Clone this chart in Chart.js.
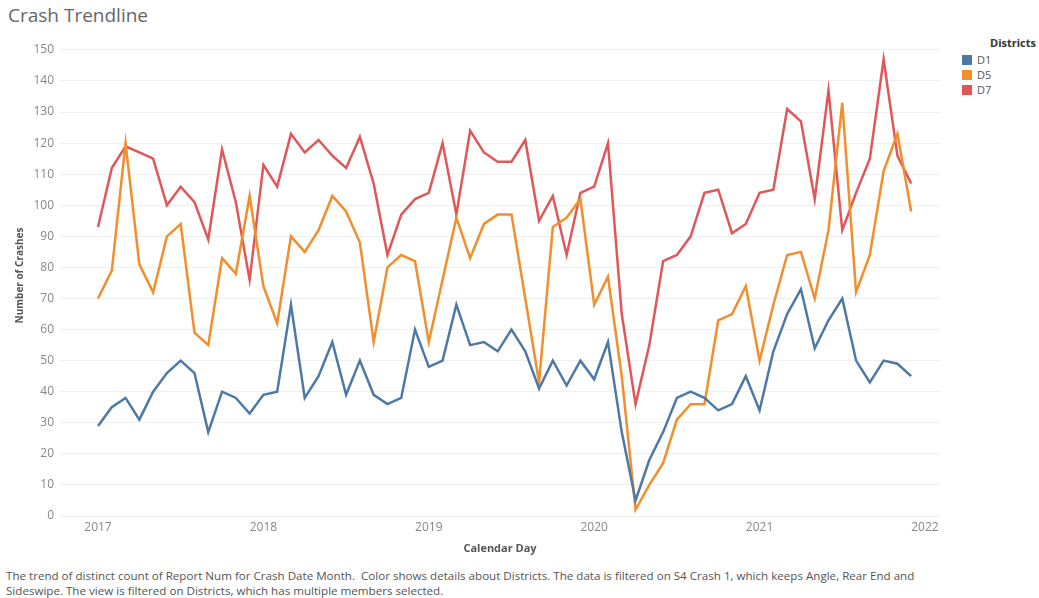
<!DOCTYPE html>
<html>
<head>
<meta charset="utf-8">
<script src="https://cdn.jsdelivr.net/npm/chart.js@4.4.1/dist/chart.umd.min.js"></script>
<style>
  html, body { margin: 0; padding: 0; background: #fff; }
  body { width: 1039px; height: 598px; position: relative; overflow: hidden; font-family: "Open Sans", sans-serif; }
  #title { position: absolute; left: 8px; top: 2px; font-size: 19px; color: #666; }
  #chartBox { position: absolute; left: 0; top: 0; width: 950px; height: 565px; }
  #legend { position: absolute; left: 962px; top: 35px; font-size: 11px; color: #555; }
  #legend .ttl { font-weight: bold; color: #333; margin-left: 28px; margin-bottom: 2px; }
  #legend .item { height: 15px; line-height: 15px; display: flex; align-items: center; }
  #legend .sw { width: 10px; height: 10px; margin-right: 5px; }
  #caption { position: absolute; left: 6px; top: 568px; font-size: 11.6px; line-height: 15px; color: #555; width: 1030px; white-space: nowrap; }
</style>
</head>
<body>
<div id="title">Crash Trendline</div>
<div id="chartBox"><canvas id="crashChart"></canvas></div>
<div id="legend"></div>
<div id="caption">The trend of distinct count of Report Num for Crash Date Month.&nbsp; Color shows details about Districts. The data is filtered on S4 Crash 1, which keeps Angle, Rear End and<br>Sideswipe. The view is filtered on Districts, which has multiple members selected.</div>
<script>
// Datos mensuales, ene 2017 - dic 2021
const yearLabels = ['2017', '2018', '2019', '2020', '2021', '2022'];
const yTicks = [0, 10, 20, 30, 40, 50, 60, 70, 80, 90, 100, 110, 120, 130, 140, 150];
const districts = ['D1', 'D5', 'D7'];
const colors = ['#4e79a7', '#f28e2b', '#e15759'];

const d1 = [
    29, 35, 38, 31, 40, 46, 50, 46, 27, 40, 38, 33,
    39, 40, 68, 38, 45, 56, 39, 50, 39, 36, 38, 60,
    48, 50, 68, 55, 56, 53, 60, 53, 41, 50, 42, 50,
    44, 56, 27, 5, 18, 27, 38, 40, 38, 34, 36, 45,
    34, 53, 65, 73, 54, 63, 70, 50, 43, 50, 49, 45
];
const d5 = [
    70, 79, 120, 81, 72, 90, 94, 59, 55, 83, 78, 103,
    74, 62, 90, 85, 92, 103, 98, 88, 56, 80, 84, 82,
    56, 76, 96, 83, 94, 97, 97, 70, 43, 93, 96, 102,
    68, 77, 45, 2, 10, 17, 31, 36, 36, 63, 65, 74,
    50, 68, 84, 85, 70, 92, 133, 72, 84, 111, 123, 98
];
const d7 = [
    93, 112, 119, 117, 115, 100, 106, 101, 89, 118, 101, 76,
    113, 106, 123, 117, 121, 116, 112, 122, 107, 84, 97, 102,
    104, 120, 97, 124, 117, 114, 114, 121, 95, 103, 84, 104,
    106, 120, 65, 36, 55, 82, 84, 90, 104, 105, 91, 94,
    104, 105, 131, 127, 102, 137, 92, 104, 115, 147, 116, 107
];
const series = [d1, d5, d7];

// Leyenda HTML
const legendEl = document.getElementById('legend');
legendEl.innerHTML = '<div class="ttl">Districts</div>' + districts.map((d, i) =>
    `<div class="item"><span class="sw" style="background:${colors[i]}"></span>${d}</div>`
).join('');

const ctx = document.getElementById('crashChart');
new Chart(ctx, {
    type: 'line',
    data: {
        datasets: districts.map((d, i) => ({
            label: d,
            data: series[i].map((v, k) => ({ x: k, y: v })),
            borderColor: colors[i],
            backgroundColor: colors[i],
            borderWidth: 2.5,
            pointRadius: 0,
            tension: 0,
            fill: false
        }))
    },
    options: {
        responsive: true,
        maintainAspectRatio: false,
        animation: false,
        layout: { padding: { top: 35, right: 10, left: 0, bottom: 0 } },
        plugins: {
            legend: { display: false },
            tooltip: { enabled: false }
        },
        scales: {
            x: {
                type: 'linear',
                min: -2.757,
                max: 61.09,
                afterBuildTicks: axis => {
                    axis.ticks = yearLabels.map((_, k) => ({ value: k * 12 }));
                },
                afterFit: axis => { axis.height = 49; },
                grid: { display: false, drawTicks: false },
                border: { display: false },
                ticks: {
                    color: '#888',
                    font: { family: 'Open Sans', size: 12 },
                    padding: 4,
                    maxRotation: 0,
                    autoSkip: false,
                    callback: (v, i) => yearLabels[i]
                },
                title: {
                    display: true,
                    text: 'Calendar Day',
                    color: '#555',
                    font: { family: 'Open Sans', size: 11, weight: 'bold' },
                    padding: { top: 10, bottom: 10 }
                }
            },
            y: {
                min: 0,
                max: 154.8,
                afterBuildTicks: axis => {
                    axis.ticks = yTicks.map(v => ({ value: v }));
                },
                afterFit: axis => { axis.width = 60; },
                grid: { color: '#f0f0f0', drawTicks: false },
                border: { display: false },
                ticks: {
                    color: '#888',
                    font: { family: 'Open Sans', size: 12 },
                    padding: 6
                },
                title: {
                    display: true,
                    text: 'Number of Crashes',
                    color: '#555',
                    font: { family: 'Open Sans', size: 10, weight: 'bold' },
                    padding: { top: 14, bottom: 0 }
                }
            }
        }
    }
});
</script>
</body>
</html>
